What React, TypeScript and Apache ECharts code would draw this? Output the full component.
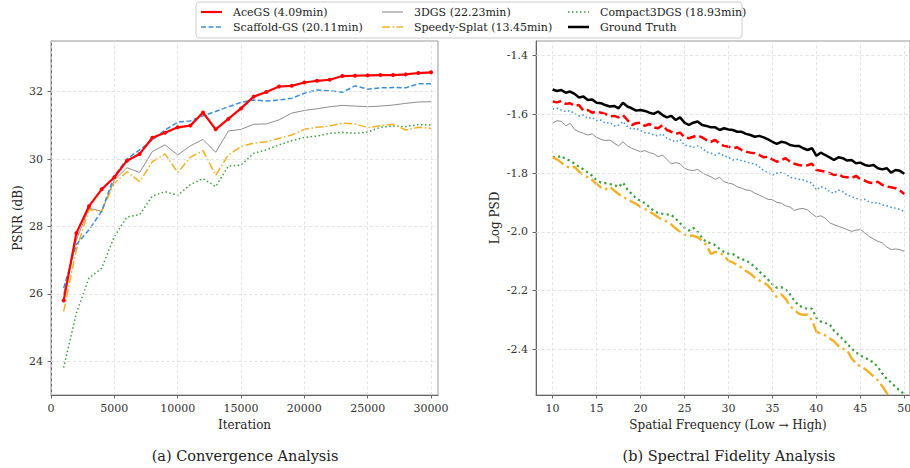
import React, { useEffect, useRef } from "react";
import * as echarts from "echarts";

// ---------- data ----------
const seriesNames = [
  "AceGS (4.09min)",
  "Scaffold-GS (20.11min)",
  "3DGS (22.23min)",
  "Speedy-Splat (13.45min)",
  "Compact3DGS (18.93min)",
  "Ground Truth",
];

const iterations = [
  1000, 2000, 3000, 4000, 5000, 6000, 7000, 8000, 9000, 10000,
  11000, 12000, 13000, 14000, 15000, 16000, 17000, 18000, 19000, 20000,
  21000, 22000, 23000, 24000, 25000, 26000, 27000, 28000, 29000, 30000,
];

const psnrAceGS = [25.8, 27.8, 28.6, 29.1, 29.46, 29.95, 30.15, 30.63, 30.78, 30.94, 30.99, 31.38, 30.88, 31.19, 31.5, 31.85, 31.99, 32.15, 32.17, 32.27, 32.32, 32.35, 32.46, 32.47, 32.48, 32.49, 32.49, 32.51, 32.55, 32.57];
const psnrScaffold = [26.17, 27.46, 27.9, 28.45, 29.5, 30.0, 30.27, 30.56, 30.86, 31.09, 31.13, 31.28, 31.41, 31.55, 31.68, 31.75, 31.72, 31.75, 31.8, 31.95, 32.05, 32.02, 31.98, 32.17, 32.07, 32.11, 32.12, 32.11, 32.23, 32.23];
const psnr3DGS = [26.0, 27.6, 28.54, 28.45, 29.38, 29.74, 29.6, 30.22, 30.42, 30.12, 30.39, 30.58, 30.2, 30.83, 30.88, 31.03, 31.04, 31.16, 31.36, 31.44, 31.49, 31.55, 31.59, 31.57, 31.55, 31.57, 31.6, 31.65, 31.69, 31.7];
const psnrSpeedy = [25.48, 27.3, 28.5, 28.45, 29.28, 29.62, 29.33, 29.92, 30.15, 29.6, 30.05, 30.25, 29.52, 30.12, 30.37, 30.47, 30.51, 30.61, 30.71, 30.88, 30.94, 30.98, 31.06, 31.04, 30.93, 30.99, 31.03, 30.86, 30.94, 30.91];
const psnrCompact = [23.81, 25.43, 26.47, 26.76, 27.7, 28.28, 28.35, 28.9, 29.03, 28.92, 29.24, 29.42, 29.18, 29.79, 29.82, 30.17, 30.27, 30.42, 30.54, 30.64, 30.68, 30.76, 30.79, 30.76, 30.8, 30.94, 30.98, 30.96, 31.02, 31.01];

const freqs = [
  10, 10.5, 11, 11.5, 12, 12.5, 13, 13.5, 14, 14.5, 15, 15.5, 16, 16.5, 17, 17.5, 18, 18.5, 19, 19.5,
  20, 20.5, 21, 21.5, 22, 22.5, 23, 23.5, 24, 24.5, 25, 25.5, 26, 26.5, 27, 27.5, 28, 28.5, 29, 29.5,
  30, 30.5, 31, 31.5, 32, 32.5, 33, 33.5, 34, 34.5, 35, 35.5, 36, 36.5, 37, 37.5, 38, 38.5, 39, 39.5,
  40, 40.5, 41, 41.5, 42, 42.5, 43, 43.5, 44, 44.5, 45, 45.5, 46, 46.5, 47, 47.5, 48, 48.5, 49, 49.5, 50,
];

const psdGroundTruth = [
  -1.515, -1.52, -1.517, -1.526, -1.522, -1.53, -1.542, -1.539, -1.551, -1.549, -1.56, -1.562, -1.568, -1.573, -1.571, -1.579, -1.56, -1.573, -1.579, -1.587,
  -1.585, -1.588, -1.594, -1.598, -1.59, -1.602, -1.61, -1.605, -1.619, -1.61, -1.628, -1.636, -1.628, -1.624, -1.636, -1.639, -1.644, -1.644, -1.653, -1.647,
  -1.651, -1.653, -1.659, -1.659, -1.666, -1.67, -1.676, -1.673, -1.678, -1.685, -1.693, -1.7, -1.693, -1.696, -1.704, -1.707, -1.707, -1.715, -1.721, -1.715,
  -1.741, -1.73, -1.738, -1.746, -1.755, -1.746, -1.749, -1.757, -1.755, -1.766, -1.764, -1.772, -1.775, -1.772, -1.783, -1.787, -1.783, -1.798, -1.789, -1.792, -1.802,
];
const psdAceGS = [
  -1.556, -1.559, -1.554, -1.564, -1.562, -1.571, -1.568, -1.587, -1.585, -1.594, -1.59, -1.594, -1.598, -1.607, -1.605, -1.61, -1.602, -1.619, -1.636, -1.63,
  -1.628, -1.639, -1.632, -1.644, -1.647, -1.636, -1.653, -1.659, -1.666, -1.662, -1.678, -1.681, -1.676, -1.671, -1.678, -1.687, -1.693, -1.687, -1.7, -1.707,
  -1.71, -1.715, -1.712, -1.721, -1.727, -1.73, -1.732, -1.738, -1.746, -1.744, -1.753, -1.761, -1.755, -1.749, -1.761, -1.768, -1.772, -1.775, -1.773, -1.768,
  -1.789, -1.792, -1.795, -1.8, -1.806, -1.802, -1.812, -1.814, -1.817, -1.809, -1.821, -1.825, -1.832, -1.834, -1.829, -1.84, -1.846, -1.848, -1.851, -1.859, -1.871,
];
const psdScaffold = [
  -1.581, -1.579, -1.585, -1.59, -1.587, -1.598, -1.605, -1.602, -1.613, -1.61, -1.621, -1.619, -1.63, -1.628, -1.639, -1.636, -1.624, -1.641, -1.651, -1.647,
  -1.655, -1.662, -1.664, -1.67, -1.673, -1.666, -1.681, -1.687, -1.693, -1.685, -1.704, -1.707, -1.712, -1.707, -1.715, -1.727, -1.732, -1.738, -1.732, -1.741,
  -1.746, -1.755, -1.753, -1.757, -1.761, -1.766, -1.768, -1.778, -1.791, -1.798, -1.806, -1.8, -1.798, -1.802, -1.814, -1.817, -1.821, -1.823, -1.829, -1.834,
  -1.857, -1.846, -1.851, -1.863, -1.868, -1.857, -1.863, -1.874, -1.88, -1.885, -1.891, -1.889, -1.897, -1.902, -1.9, -1.908, -1.911, -1.916, -1.919, -1.923, -1.931,
];
const psd3DGS = [
  -1.63, -1.621, -1.624, -1.639, -1.63, -1.651, -1.659, -1.664, -1.67, -1.666, -1.678, -1.685, -1.689, -1.687, -1.698, -1.707, -1.693, -1.707, -1.715, -1.721,
  -1.727, -1.723, -1.73, -1.734, -1.744, -1.738, -1.753, -1.768, -1.764, -1.768, -1.783, -1.789, -1.791, -1.787, -1.798, -1.806, -1.812, -1.821, -1.814, -1.829,
  -1.834, -1.837, -1.846, -1.851, -1.857, -1.859, -1.868, -1.874, -1.882, -1.889, -1.89, -1.899, -1.902, -1.911, -1.915, -1.927, -1.922, -1.92, -1.925, -1.938,
  -1.949, -1.945, -1.953, -1.969, -1.975, -1.981, -1.986, -1.992, -1.998, -1.994, -1.992, -2.003, -2.015, -2.024, -2.032, -2.037, -2.051, -2.06, -2.058, -2.06, -2.066,
];
const psdSpeedy = [
  -1.746, -1.753, -1.764, -1.775, -1.783, -1.778, -1.795, -1.806, -1.814, -1.823, -1.837, -1.848, -1.855, -1.846, -1.859, -1.871, -1.88, -1.889, -1.897, -1.905,
  -1.915, -1.922, -1.93, -1.94, -1.95, -1.958, -1.965, -1.975, -1.988, -2.0, -2.009, -2.013, -2.013, -2.018, -2.03, -2.045, -2.075, -2.068, -2.07, -2.08,
  -2.098, -2.104, -2.112, -2.122, -2.133, -2.142, -2.155, -2.165, -2.172, -2.182, -2.2, -2.222, -2.212, -2.228, -2.252, -2.265, -2.278, -2.282, -2.282, -2.3,
  -2.34, -2.345, -2.352, -2.362, -2.372, -2.388, -2.398, -2.402, -2.43, -2.447, -2.458, -2.466, -2.478, -2.492, -2.505, -2.525, -2.548, -2.568, -2.585, -2.6, -2.615,
];
const psdCompact = [
  -1.744, -1.746, -1.741, -1.753, -1.757, -1.768, -1.778, -1.787, -1.798, -1.809, -1.823, -1.832, -1.834, -1.837, -1.84, -1.847, -1.832, -1.855, -1.871, -1.885,
  -1.895, -1.902, -1.915, -1.928, -1.936, -1.938, -1.94, -1.942, -1.955, -1.97, -1.986, -1.995, -1.986, -2.0, -2.02, -2.035, -2.038, -2.045, -2.058, -2.068,
  -2.074, -2.075, -2.085, -2.093, -2.096, -2.108, -2.118, -2.135, -2.148, -2.162, -2.178, -2.19, -2.188, -2.195, -2.212, -2.235, -2.25, -2.258, -2.262, -2.261,
  -2.292, -2.305, -2.31, -2.314, -2.336, -2.35, -2.365, -2.38, -2.397, -2.41, -2.42, -2.428, -2.435, -2.445, -2.46, -2.482, -2.5, -2.512, -2.528, -2.54, -2.552,
];

const leftXTicks = [0, 5000, 10000, 15000, 20000, 25000, 30000];
const leftYTicks = [24, 26, 28, 30, 32];
const rightXTicks = [10, 15, 20, 25, 30, 35, 40, 45, 50];
const rightYTicks = [-2.4, -2.2, -2.0, -1.8, -1.6, -1.4];

const subtitles = ["(a) Convergence Analysis", "(b) Spectral Fidelity Analysis"];
const axisNames = ["Iteration", "PSNR (dB)", "Spatial Frequency (Low \u2192 High)", "Log PSD"];

// ---------- styles ----------
const FONT = "DejaVu Serif";
const RED = "#ff0000";
const BLUE = "#3a8fd6";
const GRAY = "#7f7f7f";
const ORANGE = "#f2b125";
const GREEN = "#3a9e3a";
const BLACK = "#000000";

const zip = (xs: number[], ys: number[]) => xs.map((x, i) => [x, ys[i]]);

function gridLines(xTicks: number[], yTicks: number[], idx: number) {
  return {
    type: "line",
    xAxisIndex: idx,
    yAxisIndex: idx,
    data: [],
    silent: true,
    z: 1,
    markLine: {
      silent: true,
      symbol: ["none", "none"],
      label: { show: false },
      animation: false,
      lineStyle: { color: "#dcdcdc", width: 0.8, type: [3, 2.5] },
      data: [
        ...xTicks.map((v) => ({ xAxis: v })),
        ...yTicks.map((v) => ({ yAxis: v })),
      ],
    },
  };
}

function axisCommon(ticks: number[], fmt: (v: number) => string) {
  return {
    axisLine: { show: true, onZero: false, lineStyle: { color: "#666", width: 1 } },
    axisTick: { show: true, customValues: ticks, length: 3.5, lineStyle: { color: "#666" } },
    axisLabel: {
      customValues: ticks,
      formatter: (v: number) => fmt(v),
      color: "#333",
      fontFamily: FONT,
      fontSize: 11,
    },
    splitLine: { show: false },
    nameTextStyle: { fontFamily: FONT, fontSize: 12, color: "#222" },
  };
}

const legendEntries = [
  { name: seriesNames[0], color: RED, width: 2.2, dash: null as any, x: 201, y: 12 },
  { name: seriesNames[1], color: BLUE, width: 1.5, dash: [5, 2.5], x: 201, y: 27 },
  { name: seriesNames[2], color: GRAY, width: 1, dash: null as any, x: 382, y: 12 },
  { name: seriesNames[3], color: ORANGE, width: 1.5, dash: [8, 2.5, 1.5, 2.5], x: 382, y: 27 },
  { name: seriesNames[4], color: GREEN, width: 1.5, dash: [1.5, 2.5], x: 568, y: 12 },
  { name: seriesNames[5], color: BLACK, width: 2.5, dash: null as any, x: 568, y: 27 },
];

export default function App() {
  const ref = useRef<HTMLDivElement>(null);

  useEffect(() => {
    if (!ref.current) return;
    const chart = echarts.init(ref.current, null, { renderer: "svg" });

    const legendGraphics: any[] = [
      {
        type: "rect",
        shape: { x: 196, y: 2, width: 546, height: 36, r: 3 },
        style: { fill: "#ffffff", stroke: "#cccccc", lineWidth: 1 },
        z: 10,
      },
    ];
    legendEntries.forEach((e) => {
      legendGraphics.push({
        type: "line",
        shape: { x1: e.x, y1: e.y, x2: e.x + 21, y2: e.y },
        style: { stroke: e.color, lineWidth: e.width, lineDash: e.dash || undefined },
        z: 11,
      });
      legendGraphics.push({
        type: "text",
        x: e.x + 32,
        y: e.y,
        style: {
          text: e.name,
          fontFamily: FONT,
          fontSize: 11,
          fill: "#222",
          verticalAlign: "middle",
          align: "left",
        },
        z: 11,
      });
    });

    const rightAxis = axisCommon(rightXTicks, (v) => String(v));

    const option: any = {
      animation: false,
      backgroundColor: "#ffffff",
      grid: [
        {
          left: 51, right: 910 - 438, top: 41, bottom: 468 - 395,
          show: true, borderColor: "#999", borderWidth: 1,
          containLabel: false, outerBoundsMode: "none",
        },
        {
          left: 536, right: 0, top: 41, bottom: 468 - 395,
          show: true, borderColor: "#999", borderWidth: 1,
          containLabel: false, outerBoundsMode: "none",
        },
      ],
      xAxis: [
        {
          type: "value",
          gridIndex: 0,
          min: 0,
          max: 30550,
          name: axisNames[0],
          nameLocation: "middle",
          nameGap: 21,
          ...axisCommon(leftXTicks, (v) => String(v)),
        },
        {
          type: "value",
          gridIndex: 1,
          min: 8.11,
          max: 50.65,
          name: axisNames[2],
          nameLocation: "middle",
          nameGap: 21,
          ...rightAxis,
          nameTextStyle: { ...rightAxis.nameTextStyle, padding: [0, 0, 0, 10] },
        },
      ],
      yAxis: [
        {
          type: "value",
          gridIndex: 0,
          min: 23,
          max: 33.5,
          name: axisNames[1],
          nameLocation: "middle",
          nameGap: 27,
          ...axisCommon(leftYTicks, (v) => String(v)),
        },
        {
          type: "value",
          gridIndex: 1,
          min: -2.555,
          max: -1.35,
          name: axisNames[3],
          nameLocation: "middle",
          nameGap: 35,
          ...axisCommon(rightYTicks, (v) => v.toFixed(1)),
        },
      ],
      series: [
        gridLines(leftXTicks, leftYTicks, 0),
        gridLines(rightXTicks, rightYTicks, 1),
        // left: convergence
        {
          name: seriesNames[2], type: "line", xAxisIndex: 0, yAxisIndex: 0, z: 3,
          data: zip(iterations, psnr3DGS), showSymbol: false, symbol: "none",
          lineStyle: { color: GRAY, width: 0.9 },
        },
        {
          name: seriesNames[4], type: "line", xAxisIndex: 0, yAxisIndex: 0, z: 3,
          data: zip(iterations, psnrCompact), symbol: "none",
          lineStyle: { color: GREEN, width: 1.5, type: [1.5, 2.5] },
        },
        {
          name: seriesNames[3], type: "line", xAxisIndex: 0, yAxisIndex: 0, z: 3,
          data: zip(iterations, psnrSpeedy), symbol: "none",
          lineStyle: { color: ORANGE, width: 1.5, type: [8, 2.5, 1.5, 2.5] },
        },
        {
          name: seriesNames[1], type: "line", xAxisIndex: 0, yAxisIndex: 0, z: 4,
          data: zip(iterations, psnrScaffold), symbol: "none",
          lineStyle: { color: BLUE, width: 1.5, type: [5, 2.5] },
        },
        {
          name: seriesNames[0], type: "line", xAxisIndex: 0, yAxisIndex: 0, z: 5,
          data: zip(iterations, psnrAceGS), symbol: "circle", symbolSize: 4, showSymbol: true,
          itemStyle: { color: RED, borderWidth: 0 },
          lineStyle: { color: RED, width: 2.2 },
        },
        // right: spectral
        {
          name: seriesNames[2], type: "line", xAxisIndex: 1, yAxisIndex: 1, z: 3,
          data: zip(freqs, psd3DGS), symbol: "none",
          lineStyle: { color: GRAY, width: 0.9 },
        },
        {
          name: seriesNames[4], type: "line", xAxisIndex: 1, yAxisIndex: 1, z: 3,
          data: zip(freqs, psdCompact), symbol: "none",
          lineStyle: { color: GREEN, width: 2.2, type: [2.2, 3.3] },
        },
        {
          name: seriesNames[3], type: "line", xAxisIndex: 1, yAxisIndex: 1, z: 3,
          data: zip(freqs, psdSpeedy), symbol: "none",
          lineStyle: { color: ORANGE, width: 2.4, type: [13, 4, 2.4, 4] },
        },
        {
          name: seriesNames[1], type: "line", xAxisIndex: 1, yAxisIndex: 1, z: 4,
          data: zip(freqs, psdScaffold), symbol: "none",
          lineStyle: { color: BLUE, width: 1.5, type: [1.5, 2.5] },
        },
        {
          name: seriesNames[0], type: "line", xAxisIndex: 1, yAxisIndex: 1, z: 4,
          data: zip(freqs, psdAceGS), symbol: "none",
          lineStyle: { color: RED, width: 2.5, type: [9, 4] },
        },
        {
          name: seriesNames[5], type: "line", xAxisIndex: 1, yAxisIndex: 1, z: 5,
          data: zip(freqs, psdGroundTruth), symbol: "none",
          lineStyle: { color: BLACK, width: 2.5 },
        },
      ],
      graphic: [
        ...legendGraphics,
        {
          type: "text",
          x: 245,
          y: 456,
          style: {
            text: subtitles[0], fontFamily: FONT, fontSize: 14.5, fill: "#222",
            align: "center", verticalAlign: "middle",
          },
        },
        {
          type: "text",
          x: 729,
          y: 456,
          style: {
            text: subtitles[1], fontFamily: FONT, fontSize: 14.5, fill: "#222",
            align: "center", verticalAlign: "middle",
          },
        },
      ],
    };

    chart.setOption(option);
    return () => chart.dispose();
  }, []);

  return (
    <div
      ref={ref}
      style={{ position: "fixed", left: 0, top: 0, width: 910, height: 468, background: "#fff" }}
    />
  );
}
